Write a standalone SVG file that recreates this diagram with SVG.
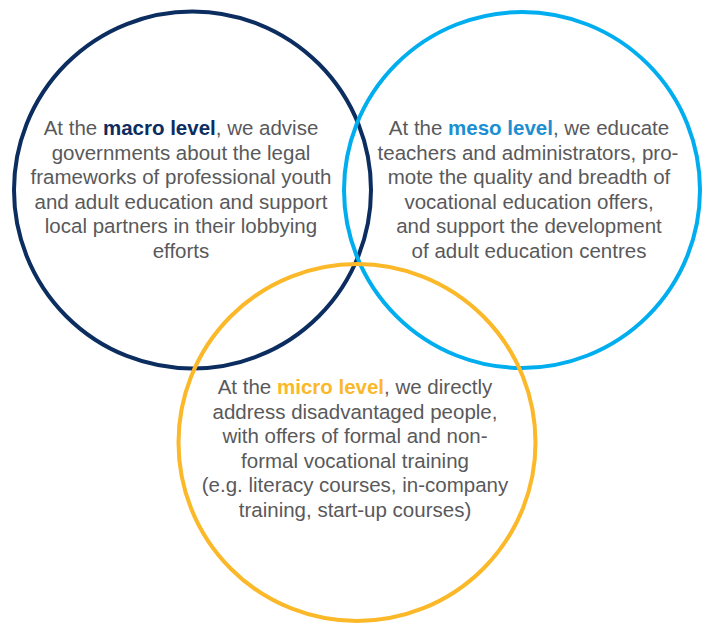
<svg xmlns="http://www.w3.org/2000/svg" width="708" height="623" viewBox="0 0 708 623">
<style>
.c{fill:none;stroke-width:4}
.t{font-family:"Liberation Sans",Arial,sans-serif;font-size:20.5px;fill:#59595b;text-anchor:middle}
.b{font-weight:bold}
</style>
<rect width="708" height="623" fill="#ffffff"/>
<g id="macro">
<circle class="c" cx="192.5" cy="190" r="178.5" stroke="#0b2d5f"/>
<text class="t" x="181" y="135">At the <tspan class="b" fill="#0b2d5f">macro level</tspan>, we advise</text>
<text class="t" x="181" y="159.5">governments about the legal</text>
<text class="t" x="181" y="184">frameworks of professional youth</text>
<text class="t" x="181" y="208.5">and adult education and support</text>
<text class="t" x="181" y="233">local partners in their lobbying</text>
<text class="t" x="181" y="257.5">efforts</text>
</g>
<g id="meso">
<circle class="c" cx="522" cy="190" r="178" stroke="#00aeef"/>
<text class="t" x="529" y="135">At the <tspan class="b" fill="#1b8fd2">meso level</tspan>, we educate</text>
<text class="t" x="528" y="159.5">teachers and administrators, pro-</text>
<text class="t" x="529" y="184">mote the quality and breadth of</text>
<text class="t" x="529" y="208.5">vocational education offers,</text>
<text class="t" x="529" y="233">and support the development</text>
<text class="t" x="529" y="257.5">of adult education centres</text>
</g>
<g id="micro">
<circle class="c" cx="357" cy="442.5" r="178.5" stroke="#fbb829"/>
<text class="t" x="355" y="394">At the <tspan class="b" fill="#fbb829">micro level</tspan>, we directly</text>
<text class="t" x="355" y="418.5">address disadvantaged people,</text>
<text class="t" x="355" y="443">with offers of formal and non-</text>
<text class="t" x="355" y="467.5">formal vocational training</text>
<text class="t" x="355" y="492">(e.g. literacy courses, in-company</text>
<text class="t" x="355" y="516.5">training, start-up courses)</text>
</g>
<g id="connectors"/>
</svg>
